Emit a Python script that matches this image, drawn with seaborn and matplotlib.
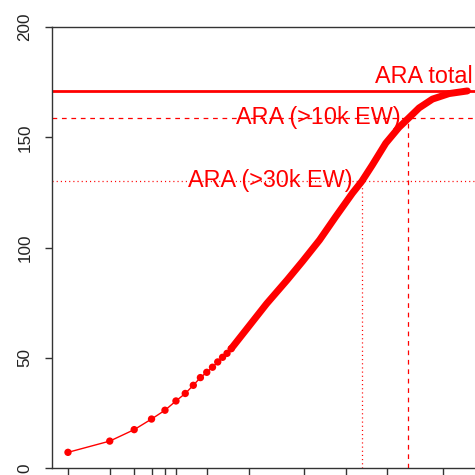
import numpy as np
import pandas as pd
import matplotlib
matplotlib.use("Agg")
import matplotlib.pyplot as plt
import seaborn as sns

# ---- data ----
dot_rank = [1, 2, 3, 4, 5, 6, 7, 8, 9, 10, 11, 12, 13, 14, 15]
dot_value = [7.1, 12.2, 17.4, 22.2, 26.2, 30.4, 33.8, 37.5, 41.0, 43.4,
             45.7, 48.1, 50.2, 52.0, 54.1]
curve_rank = [15, 19, 27, 38, 49, 65, 85, 112, 131, 156, 195, 243, 284, 339,
              423, 557, 755]
curve_value = [54.1, 62.3, 74.5, 85.3, 93.7, 103.4, 114.0, 124.6, 130.0, 137.4,
               147.3, 154.5, 158.6, 163.3, 167.3, 169.8, 171.0]
ref_labels = ["ARA total", "ARA (>10k EW)", "ARA (>30k EW)"]
ref_values = [171.1, 158.6, 130.0]
ref_cut_rank = [None, 284, 131]
y_ticks = [0, 50, 100, 150, 200]
x_ticks = [1, 2, 3, 4, 5, 6, 10, 20, 50, 100, 200, 500, 1000]

sns.set_style("white")
plt.rcParams["font.family"] = ["Liberation Sans", "DejaVu Sans"]
plt.rcParams["lines.scale_dashes"] = False

W = 475
fig = plt.figure(figsize=(4.75, 4.75), dpi=100)
ax = fig.add_axes([52 / W, 7 / W, (484.3 - 52) / W, 441 / W])
ax.set_xscale("log")
ax.set_xlim(10 ** -0.1151, 10 ** 2.993)
ax.set_ylim(0, 200)

red = "#FF0000"
dots = pd.DataFrame({"rank": dot_rank, "value": dot_value})
curve = pd.DataFrame({"rank": curve_rank, "value": curve_value})

# reference lines
ax.axhline(ref_values[0], color=red, lw=2.0, zorder=2)
ax.axhline(ref_values[1], color=red, lw=0.9, dashes=(3.4, 3.4), zorder=2)
ax.axhline(ref_values[2], color=red, lw=0.9, dashes=(0.8, 2.2), zorder=2)
ax.vlines(ref_cut_rank[1], 0, ref_values[1], color=red, lw=0.9,
          linestyles=[(0, (3.4, 3.4))], zorder=2)
ax.vlines(ref_cut_rank[2], 0, ref_values[2], color=red, lw=0.9,
          linestyles=[(0, (0.8, 2.2))], zorder=2)

# cumulative curve
sns.lineplot(data=dots, x="rank", y="value", color=red, lw=1.0, ax=ax,
             sort=False, estimator=None, zorder=3)
sns.scatterplot(data=dots, x="rank", y="value", color=red, s=28,
                edgecolor="none", linewidth=0, ax=ax, zorder=4)
sns.lineplot(data=curve, x="rank", y="value", color=red, lw=5.0, ax=ax,
             sort=False, estimator=None, zorder=4, solid_capstyle="round",
             solid_joinstyle="round")

# labels
fs = 16.8
ax.text(368, 174.7, ref_labels[0], color=red, fontsize=fs, ha="center",
        va="baseline", zorder=5)
ax.text(250.4, 156.0, ref_labels[1], color=red, fontsize=fs, ha="right",
        va="baseline", zorder=5)
ax.text(112.3, 127.6, ref_labels[2], color=red, fontsize=fs, ha="right",
        va="baseline", zorder=5)

# axes styling (R base look)
ax.set_xlabel("")
ax.set_ylabel("")
ax.set_yticks(y_ticks)
ax.set_yticklabels([str(v) for v in y_ticks], rotation=90, va="center",
                   fontsize=12.3, color="#222222")
ax.set_xticks(x_ticks)
ax.set_xticklabels([""] * len(x_ticks))
ax.xaxis.set_minor_locator(matplotlib.ticker.NullLocator())
ax.tick_params(axis="both", which="major", direction="out", length=5,
               width=1.0, color="#333333", left=True, bottom=True, pad=9)
for s in ax.spines.values():
    s.set_visible(True)
    s.set_color("#333333")
    s.set_linewidth(1.0)
ax.grid(False)
if ax.get_legend():
    ax.get_legend().remove()

fig.savefig("out.png", dpi=100)
